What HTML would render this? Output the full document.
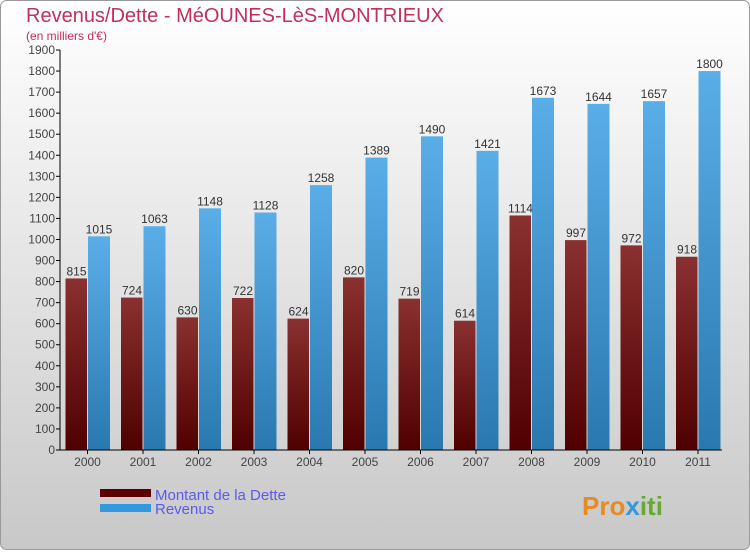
<!DOCTYPE html>
<html><head><meta charset="utf-8"><style>
body{margin:0;width:750px;height:550px;overflow:hidden;font-family:"Liberation Sans",sans-serif}
</style></head><body>
<svg id="c" width="750" height="550" xmlns="http://www.w3.org/2000/svg">
<defs>
<linearGradient id="bg" x1="0" y1="0" x2="0" y2="1"><stop offset="0" stop-color="#ffffff"/><stop offset="1" stop-color="#c8c8c8"/></linearGradient>
<linearGradient id="gd" x1="0" y1="0" x2="0" y2="1"><stop offset="0" stop-color="#8a3030"/><stop offset="1" stop-color="#500000"/></linearGradient>
<linearGradient id="gr" x1="0" y1="0" x2="0" y2="1"><stop offset="0" stop-color="#5aaee8"/><stop offset="1" stop-color="#2a78b0"/></linearGradient>
</defs>
<rect x="0.5" y="0.5" width="749" height="549" rx="6" fill="url(#bg)" stroke="#999"/>
<text x="26" y="22" font-size="20" fill="#c0305a">Revenus/Dette - MéOUNES-LèS-MONTRIEUX</text>
<text x="26" y="40" font-size="12" fill="#c0305a">(en milliers d'€)</text>
<g id="plot"></g>
<rect x="100" y="489" width="51" height="8" fill="#5a0000"/>
<text x="155" y="500" font-size="15" fill="#5a5aee">Montant de la Dette</text>
<rect x="100" y="504" width="51" height="8" fill="#3399dd"/>
<text x="155" y="514" font-size="15" fill="#5a5aee">Revenus</text>
<text x="582" y="515" font-size="26" font-weight="bold" fill="#e88a20">Pro<tspan fill="#3399dd">x</tspan><tspan fill="#66aa33">iti</tspan></text>
</svg>
<script>
const categories=["2000","2001","2002","2003","2004","2005","2006","2007","2008","2009","2010","2011"];
const debt=[815,724,630,722,624,820,719,614,1114,997,972,918];
const revenue=[1015,1063,1148,1128,1258,1389,1490,1421,1673,1644,1657,1800];
const yTicks=[0,100,200,300,400,500,600,700,800,900,1000,1100,1200,1300,1400,1500,1600,1700,1800,1900];
const NS="http://www.w3.org/2000/svg";
const g=document.getElementById('plot');
const y=v=>450-v*400/1900;
const xc=i=>87.5+i*55.5;
function el(t,a){const e=document.createElementNS(NS,t);for(const k in a)e.setAttribute(k,a[k]);g.appendChild(e);return e;}
yTicks.forEach(t=>{
  const l=el('line',{x1:56,x2:60,y1:y(t),y2:y(t),stroke:'#000'});
  
  
  const tx=el('text',{x:55,y:y(t)+4,'font-size':12,fill:'#444','text-anchor':'end'});
  tx.textContent=t;
  
  
});
categories.forEach((c,i)=>{
  const cx=xc(i);
  const b1=el('rect',{x:cx-22,y:y(debt[i]),width:21.5,height:450-y(debt[i]),fill:'url(#gd)'});
  
  
  const b2=el('rect',{x:cx+0.5,y:y(revenue[i]),width:22,height:450-y(revenue[i]),fill:'url(#gr)'});
  
  
  const t1=el('text',{x:cx-11,y:y(debt[i])-3,'font-size':12,fill:'#333','text-anchor':'middle'});
  t1.textContent=debt[i];
  
  
  const t2=el('text',{x:cx+11.5,y:y(revenue[i])-3,'font-size':12,fill:'#333','text-anchor':'middle'});
  t2.textContent=revenue[i];
  
  
  const tk=el('line',{x1:cx,x2:cx,y1:450,y2:454,stroke:'#000'});
  
  
  const xl=el('text',{x:cx,y:466,'font-size':12,fill:'#444','text-anchor':'middle'});
  xl.textContent=c;
  
  
});
const ya=el('line',{x1:60,x2:60,y1:50,y2:450,stroke:'#000'});


const xa=el('line',{x1:60,x2:722,y1:450,y2:450,stroke:'#000'});


</script>
</body></html>
